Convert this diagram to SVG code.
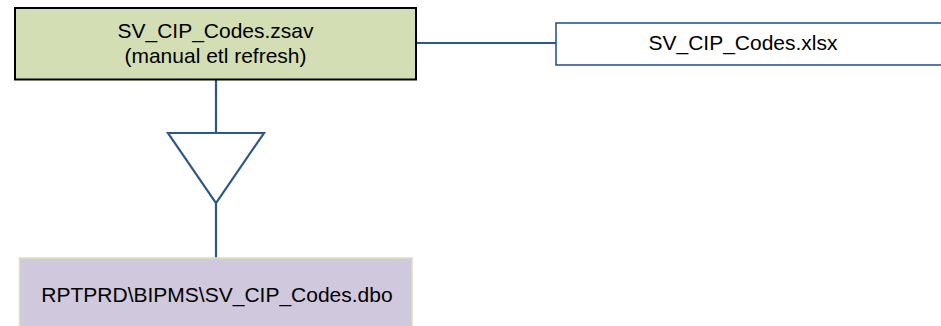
<svg xmlns="http://www.w3.org/2000/svg" width="941" height="326" viewBox="0 0 941 326">
<style>
text{font-family:"Liberation Sans",Arial,sans-serif;font-size:21px;fill:#000;text-anchor:middle}
.conn{stroke:#2c578c;stroke-width:2.2;fill:none}
</style>
<rect width="941" height="326" fill="#fff"/>
<g id="connectors">
<line class="conn" x1="416" y1="43" x2="556" y2="43"/>
<line class="conn" x1="216" y1="80" x2="216" y2="133"/>
<polygon class="conn" fill="#fff" points="168,133 264,133 216,203"/>
<line class="conn" x1="216" y1="203" x2="216" y2="258"/>
</g>
<g id="zsav">
<rect x="15" y="8" width="401" height="71.5" fill="#d3deb5" stroke="#000" stroke-width="2"/>
<text x="215.5" y="38">SV_CIP_Codes.zsav</text>
<text x="215.5" y="63">(manual etl refresh)</text>
</g>
<g id="xlsx">
<rect x="556" y="23" width="400" height="42" fill="#fff" stroke="#2c578c" stroke-width="1.6"/>
<text x="743" y="50">SV_CIP_Codes.xlsx</text>
</g>
<g id="dbo">
<rect x="19.5" y="258" width="392.5" height="80" fill="#d0c8dd" stroke="#d7e4bd" stroke-width="1.6"/>
<text x="217" y="302">RPTPRD\BIPMS\SV_CIP_Codes.dbo</text>
</g>
</svg>
